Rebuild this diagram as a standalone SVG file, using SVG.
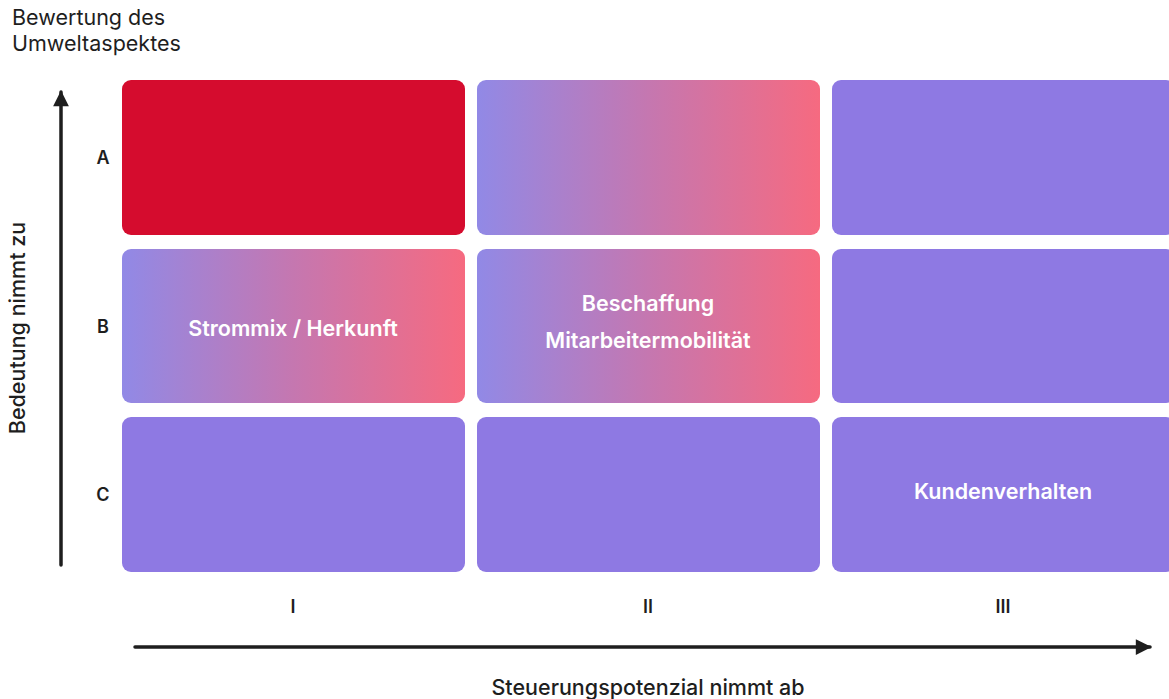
<svg xmlns="http://www.w3.org/2000/svg" width="1169" height="699" viewBox="0 0 1169 699">
<defs>
<linearGradient id="grad" x1="0" y1="0" x2="1" y2="0">
<stop offset="0" stop-color="#9189E6"/>
<stop offset="0.5" stop-color="#C577B0"/>
<stop offset="1" stop-color="#F66A80"/>
</linearGradient>
<marker id="arr" viewBox="0 0 10 10" refX="9" refY="5" markerWidth="6" markerHeight="4.5" orient="auto" markerUnits="strokeWidth">
<path d="M0,0 L10,5 L0,10 z" fill="#1e1e1e"/>
</marker>
<style>
.cell{stroke:none}
.purple{fill:#8E79E3}
.red{fill:#D50C2E}
.grad{fill:url(#grad)}
.ct{font-family:Inter,"Liberation Sans",sans-serif;font-size:21.5px;font-weight:600;fill:#fff;text-anchor:middle}
.lbl{font-family:Inter,"Liberation Sans",sans-serif;font-size:18px;font-weight:600;fill:#1e1e1e;text-anchor:middle}
.ax{font-family:Inter,"Liberation Sans",sans-serif;font-size:21.5px;fill:#1e1e1e}
.axb{font-family:Inter,"Liberation Sans",sans-serif;font-size:21.5px;font-weight:500;fill:#1e1e1e;text-anchor:middle}
.line{stroke:#1e1e1e;stroke-width:3.5;fill:none;stroke-linecap:round}
</style>
</defs>
<rect width="1169" height="699" fill="#fff"/>
<text class="ax" x="12" y="25">Bewertung des</text>
<text class="ax" x="12" y="51">Umweltaspektes</text>
<g id="connectors">
<line class="line" x1="61" y1="565" x2="61" y2="92" marker-end="url(#arr)"/>
<line class="line" x1="135" y1="647" x2="1150" y2="647" marker-end="url(#arr)"/>
</g>
<text class="axb" transform="translate(25,328) rotate(-90)">Bedeutung nimmt zu</text>
<text class="axb" x="648" y="695">Steuerungspotenzial nimmt ab</text>
<g id="row-labels">
<text class="lbl" x="103" y="164">A</text>
<text class="lbl" x="103" y="333">B</text>
<text class="lbl" x="103" y="501">C</text>
</g>
<g id="col-labels">
<text class="lbl" x="293" y="613">I</text>
<text class="lbl" x="648" y="613">II</text>
<text class="lbl" x="1003" y="613">III</text>
</g>
<g id="cell-A-I"><rect class="cell red" x="122" y="80" width="343" height="155" rx="9"/></g>
<g id="cell-A-II"><rect class="cell grad" x="477" y="80" width="343" height="155" rx="9"/></g>
<g id="cell-A-III"><rect class="cell purple" x="832" y="80" width="343" height="155" rx="9"/></g>
<g id="cell-B-I"><rect class="cell grad" x="122" y="249" width="343" height="154" rx="9"/>
<text class="ct" x="293" y="336">Strommix / Herkunft</text></g>
<g id="cell-B-II"><rect class="cell grad" x="477" y="249" width="343" height="154" rx="9"/>
<text class="ct" x="648" y="311">Beschaffung</text>
<text class="ct" x="648" y="348">Mitarbeitermobilität</text></g>
<g id="cell-B-III"><rect class="cell purple" x="832" y="249" width="343" height="154" rx="9"/></g>
<g id="cell-C-I"><rect class="cell purple" x="122" y="417" width="343" height="155" rx="9"/></g>
<g id="cell-C-II"><rect class="cell purple" x="477" y="417" width="343" height="155" rx="9"/></g>
<g id="cell-C-III"><rect class="cell purple" x="832" y="417" width="343" height="155" rx="9"/>
<text class="ct" x="1003" y="499">Kundenverhalten</text></g>
</svg>
